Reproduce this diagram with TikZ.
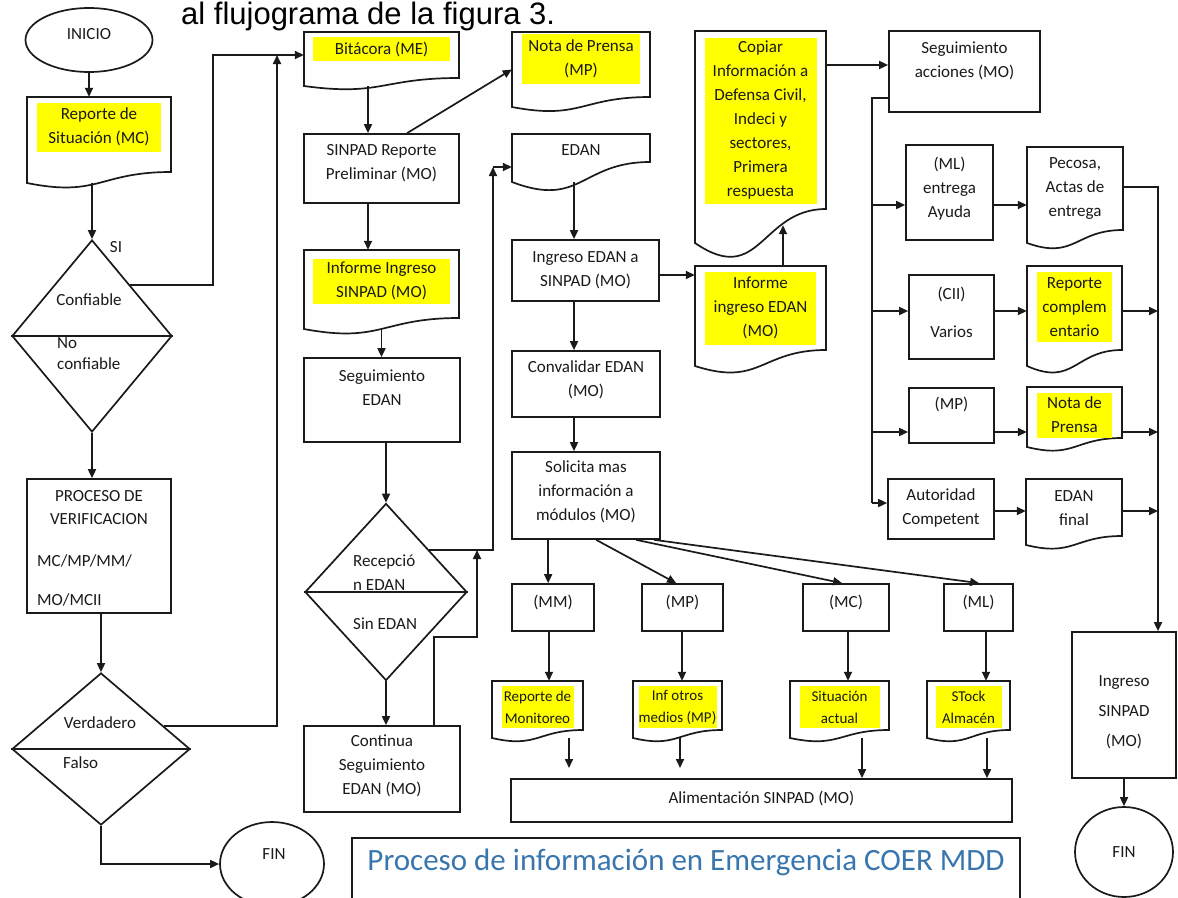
\documentclass[tikz,border=0pt]{standalone}
\usepackage{fontspec}
\setmainfont{Carlito}
\newfontfamily\hdrfam{Liberation Sans}
\usetikzlibrary{arrows.meta,shapes.geometric,fit,calc}
\definecolor{ink}{HTML}{1A1A1A}
\definecolor{hly}{HTML}{FFFF00}
\definecolor{ttlc}{HTML}{3A76AE}
\newcommand{\bodyfont}{\fontsize{17}{24}\selectfont}
\newcommand{\smallfont}{\fontsize{15}{22}\selectfont}
\newcommand{\hdrfont}{\hdrfam\fontsize{31}{36}\selectfont}
\newcommand{\ttlfont}{\fontsize{31}{36}\selectfont}
\tikzset{
  ln/.style={draw=ink, line width=1.7pt},
  arr/.style={ln, -{Triangle[length=9pt,width=8pt]}},
  box/.style={ln, inner sep=0pt},
  txt/.style={font=\bodyfont, align=center, inner sep=0pt, text=ink},
  hlbox/.style 2 args={fill=hly, minimum width=#1, minimum height=#2},
  dia/.style={ln, diamond, inner sep=0pt},
  ell/.style={ln, ellipse, inner sep=0pt},
}
% document shape: name, x1, ytop, x2, yRight, yLeft, ytext, text options, text
\newcommand{\docnode}[9]{%
  \node[fit={(#2,#3)(#4,#6)}, inner sep=0pt] (#1) {};
  \draw[ln] (#2,#3) -- (#4,#3) -- (#4,#5) .. controls ({(#2+#4)/2},#5) and ({(#2+#4)/2},{#5+2.32*(#6-#5)}) .. (#2,#6) -- cycle;
  \node[txt,#8] (#1-t) at ({(#2+#4)/2},#7) {#9};
}
% process box: name, x1, y1, x2, y2, ytext, text
\newcommand{\procbox}[7]{%
  \node[box, fit={(#2,#3)(#4,#5)}] (#1) {};
  \node[txt] (#1-t) at ({(#2+#4)/2},#6) {#7};
}
\begin{document}
\begin{tikzpicture}[x=1pt,y=-1pt]
\useasboundingbox (0,0) rectangle (1178,897);
\fill[white] (0,0) rectangle (1178,897);
\node[anchor=base west, inner sep=0pt, font=\hdrfont, text=black] (hdr) at (181,24) {al flujograma de la figura 3.};

% ---------- left column
\node[ell, minimum width=127pt, minimum height=64pt] (inicio) at (89,40) {};
\node[txt] (inicio-t) at (89,34) {INICIO};
\docnode{rep}{27}{97}{171}{172}{183}{127}{hlbox={124pt}{49pt}}{Reporte de\\Situación (MC)}
\node[dia, minimum width=160pt, minimum height=192pt] (d1) at (92,336) {};
\draw[ln] (d1.west) -- (d1.east);
\node[txt] (d1-a) at (89,300) {Confiable};
\node[txt, anchor=west] (d1-b) at (57,343) {No};
\node[txt, anchor=west] (d1-c) at (57,364) {confiable};
\node[txt] (si) at (116,247) {SI};
\procbox{proc}{27}{479}{171}{613}{507.5}{PROCESO DE\\[-1pt]VERIFICACION}
\node[txt, anchor=west] (proc-a) at (37,561) {MC/MP/MM/};
\node[txt, anchor=west] (proc-b) at (37,600) {MO/MCII};
\node[dia, minimum width=178pt, minimum height=152pt] (d2) at (101,749) {};
\draw[ln] (d2.west) -- (d2.east);
\node[txt] (d2-a) at (100,723) {Verdadero};
\node[txt, anchor=west] (d2-b) at (63,763) {Falso};
\node[ell, minimum width=104pt, minimum height=84pt] (finL) at (272,864) {};
\node[txt] (finL-t) at (274,854) {FIN};

% ---------- column 2
\docnode{bita}{304}{32}{459}{78}{86}{49}{hlbox={137pt}{24pt}}{Bitácora (ME)}
\procbox{sinpad}{304}{134}{459}{203}{163.5}{SINPAD Reporte\\Preliminar (MO)}
\docnode{nota1}{512}{32}{650}{97}{107}{59}{hlbox={118pt}{50pt}}{Nota de Prensa\\(MP)}
\docnode{inf1}{304}{250}{459}{318}{329}{281}{hlbox={137pt}{45pt}}{Informe Ingreso\\SINPAD (MO)}
\procbox{seg}{304}{358}{460}{442}{387.5}{Seguimiento\\EDAN}
\node[dia, minimum width=162pt, minimum height=177pt] (d3) at (386,592) {};
\draw[ln] (d3.west) -- (d3.east);
\node[txt, anchor=west, align=left] (d3-a) at (353,572.5) {Recepció\\n EDAN};
\node[txt, anchor=west] (d3-b) at (353,624) {Sin EDAN};
\procbox{cont}{304}{726}{460}{812}{765.5}{Continua\\Seguimiento\\EDAN (MO)}

% ---------- column 3
\docnode{edan}{512}{134}{650}{162}{182}{150}{}{EDAN}
\procbox{ing}{512}{240}{659}{301}{270}{Ingreso EDAN a\\SINPAD (MO)}
\procbox{conv}{512}{351}{660}{417}{380}{Convalidar EDAN\\(MO)}
\procbox{sol}{512}{452}{660}{539}{491.5}{Solicita mas\\información a\\módulos (MO)}
\procbox{mm}{512}{584}{594}{631}{602}{(MM)}
\procbox{mp}{642}{584}{723}{631}{602}{(MP)}
\procbox{mc}{803}{584}{889}{631}{602}{(MC)}
\procbox{ml}{944}{584}{1013}{631}{602}{(ML)}
\docnode{repM}{492}{681}{583}{730}{738}{707}{hlbox={72pt}{42pt}, font=\smallfont}{Reporte de\\Monitoreo}
\docnode{infO}{633}{681}{722}{730}{738}{707}{hlbox={78pt}{42pt}, font=\smallfont}{Inf otros\\medios (MP)}
\docnode{sitA}{790}{681}{889}{730}{738}{707}{hlbox={80pt}{42pt}, font=\smallfont}{Situación\\actual}
\docnode{stock}{927}{681}{1010}{730}{738}{707}{hlbox={66pt}{42pt}, font=\smallfont}{STock\\Almacén}
\procbox{alim}{511}{779}{1012}{822}{798}{Alimentación SINPAD (MO)}

% ---------- column 4 and right
\docnode{copiar}{695}{31}{826}{209}{243}{120.5}{hlbox={112pt}{166pt}}{Copiar\\Información a\\Defensa Civil,\\Indeci y\\sectores,\\Primera\\respuesta}
\docnode{infE}{695}{266}{826}{350}{366}{308}{hlbox={111pt}{73pt}}{Informe\\ingreso EDAN\\(MO)}
\procbox{seg2}{889}{31}{1040}{112}{60.5}{Seguimiento\\acciones (MO)}
\procbox{mlA}{906}{145}{993}{240}{189}{(ML)\\entrega\\Ayuda}
\docnode{pecosa}{1027}{147}{1123}{230}{243}{189}{}{Pecosa,\\Actas de\\entrega}
\procbox{cii}{909}{275}{994}{359}{312}{(CII)\\[14pt]Varios}
\docnode{repc}{1027}{266}{1122}{350}{366}{307}{hlbox={75pt}{70pt}}{Reporte\\complem\\entario}
\procbox{mpR}{909}{388}{994}{443}{404}{(MP)}
\docnode{notaR}{1027}{387}{1122}{438}{447}{415}{hlbox={75pt}{45pt}}{Nota de\\Prensa}
\procbox{aut}{888}{479}{994}{539}{508}{Autoridad\\Competent}
\docnode{edanF}{1026}{479}{1122}{536}{545}{508}{}{EDAN\\final}
\procbox{ingS}{1072}{632}{1176}{778}{712}{Ingreso\\[6pt]SINPAD\\[6pt](MO)}
\node[ell, minimum width=98pt, minimum height=90pt] (finR) at (1124,852) {};
\node[txt] (finR-t) at (1124,852) {FIN};

% ---------- title
\node[box, fit={(352,838)(1020,910)}] (ttlbox) {};
\node[font=\ttlfont, text=ttlc, inner sep=0pt] (ttl) at (686,862) {Proceso de información en Emergencia COER MDD};

% ---------- connectors: left
\draw[arr] (inicio.south) -- (inicio.south |- rep.north);
\draw[arr] (rep.south -| d1.north) -- (d1.north);
\draw[arr] (d1.south) -- (d1.south |- proc.north);
\draw[arr] (proc.south -| d2.north) -- (d2.north);
\draw[arr] (d2.south) |- (finL.west);
\coordinate (j1) at (213,55);
\coordinate (j2) at (277,55);
\draw[arr] ($(d1.north)!0.47!(d1.east)$) -| (j1) -- (j1 -| bita.west);
\draw[arr] ($(d2.north)!0.7!(d2.east)$) -| (j2);

% ---------- connectors: column 2
\draw[arr] ([xshift=-13.5pt]bita.south) -- ([xshift=-13.5pt]sinpad.north);
\draw[arr] ([xshift=25.5pt]sinpad.north) -- (nota1.west);
\draw[arr] ([xshift=-13.5pt]sinpad.south) -- ([xshift=-13.5pt]inf1.north);
\draw[arr] (inf1.south) -- (inf1.south |- seg.north);
\draw[arr] (seg.south -| d3.north) -- (d3.north);
\coordinate (p3) at ($(d3.north)!0.53!(d3.east)$);
\coordinate (j3) at (493,167);
\draw[arr] (p3) -| (j3);
\draw[arr] (j3) -- (j3 -| edan.west);
\draw[arr] (d3.south) -- (d3.south |- cont.north);
\coordinate (k1) at (477,637);
\draw[arr] ([xshift=52pt]cont.north) |- (k1) -- (k1 |- p3);

% ---------- connectors: column 3
\coordinate (c3) at (574,0);
\draw[arr] (edan.south -| c3) -- (ing.north -| c3);
\draw[arr] (ing.south -| c3) -- (conv.north -| c3);
\draw[arr] (conv.south -| c3) -- (sol.north -| c3);
\coordinate (rIng) at (0,275);
\draw[arr] (ing.east |- rIng) -- (infE.west |- rIng);
\draw[arr] ($(sol.south west)+(37,0)$) -- ($(mm.north west)+(37,0)$);
\draw[arr] ($(sol.south west)+(85,0)$) -- ($(mp.north west)+(35,0)$);
\draw[arr] ($(sol.south west)+(125,0)$) -- ($(mc.north west)+(40,0)$);
\draw[arr] ($(sol.south west)+(143,0)$) -- ($(ml.north west)+(36,0)$);
\coordinate (cMM) at (549,0);
\coordinate (cMP) at (682,0);
\coordinate (cMC) at (848,0);
\coordinate (cML) at (986,0);
\draw[arr] (mm.south -| cMM) -- (repM.north -| cMM);
\draw[arr] (mp.south -| cMP) -- (infO.north -| cMP);
\draw[arr] (mc.south -| cMC) -- (sitA.north -| cMC);
\draw[arr] (ml.south -| cML) -- (stock.north -| cML);
\coordinate (e1) at (569,768);
\coordinate (e2) at (680,768);
\coordinate (e3) at (862,0);
\coordinate (e4) at (987,0);
\draw[arr] (repM.south -| e1) -- (e1);
\draw[arr] (infO.south -| e2) -- (e2);
\draw[arr] (sitA.south -| e3) -- (alim.north -| e3);
\draw[arr] (stock.south -| e4) -- (alim.north -| e4);

% ---------- connectors: right
\coordinate (rCp) at (0,65);
\draw[arr] (copiar.east |- rCp) -- (seg2.west |- rCp);
\coordinate (cE) at (783,0);
\coordinate (cwave) at ([yshift=18pt]copiar.south);
\draw[arr] (infE.north -| cE) -- (cwave -| cE);
\coordinate (busT) at (872,98);
\coordinate (busE) at (872,503);
\draw[ln] (seg2.west |- busT) -- (busT) -- (busE);
\draw[arr] (busE) -- (aut.west |- busE);
\coordinate (rML) at (0,205);
\coordinate (rCII) at (0,311);
\coordinate (rMP) at (0,432);
\coordinate (rAut) at (0,511);
\draw[arr] (busT |- rML) -- (mlA.west |- rML);
\draw[arr] (busT |- rCII) -- (cii.west |- rCII);
\draw[arr] (busT |- rMP) -- (mpR.west |- rMP);
\draw[arr] (mlA.east |- rML) -- (pecosa.west |- rML);
\draw[arr] (cii.east |- rCII) -- (repc.west |- rCII);
\draw[arr] (mpR.east |- rMP) -- (notaR.west |- rMP);
\draw[arr] (aut.east |- rAut) -- (edanF.west |- rAut);
\coordinate (busR) at (1158,187);
\draw[arr] (pecosa.east |- busR) -- (busR) -- (busR |- ingS.north);
\draw[arr] (repc.east |- rCII) -- (busR |- rCII);
\draw[arr] (notaR.east |- rMP) -- (busR |- rMP);
\draw[arr] (edanF.east |- rAut) -- (busR |- rAut);
\draw[arr] (ingS.south -| finR.north) -- (finR.north);
\end{tikzpicture}
\end{document}
